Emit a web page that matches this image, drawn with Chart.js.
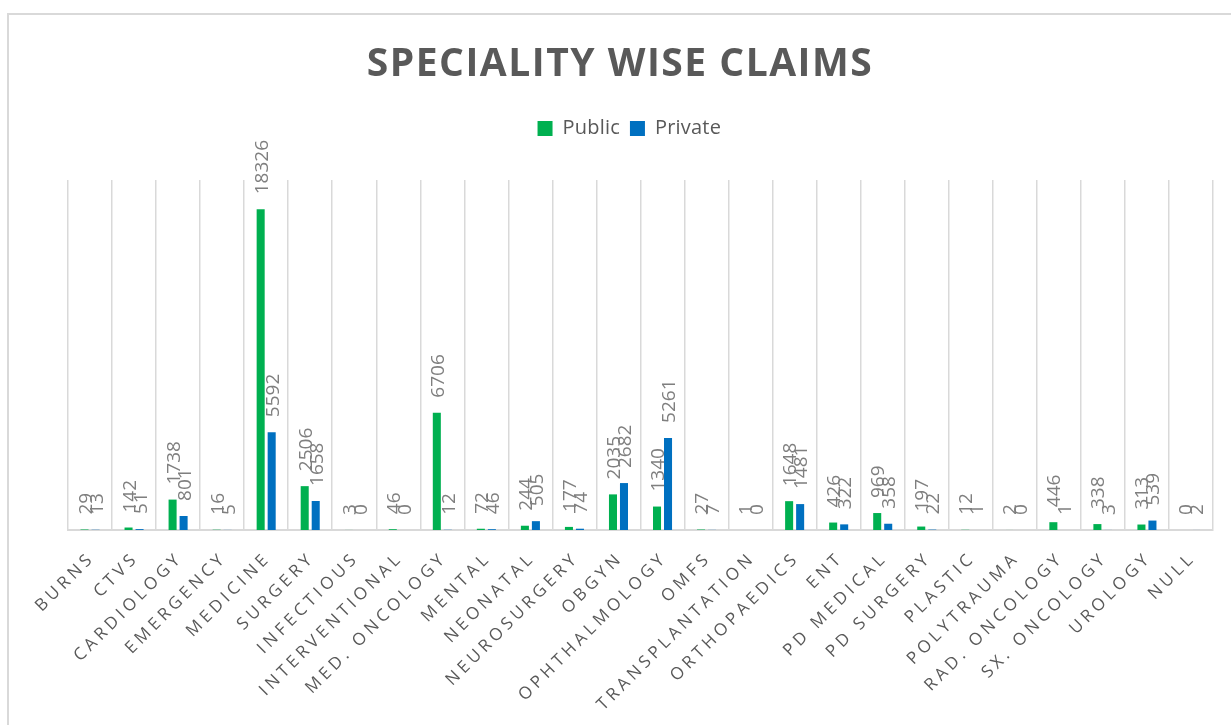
<!DOCTYPE html>
<html><head><meta charset="utf-8">
<script src="https://cdn.jsdelivr.net/npm/chart.js@4.4.0/dist/chart.umd.min.js"></script>
<style>html,body{margin:0;padding:0;background:#fff;overflow:hidden}#wrap{width:1231px;height:725px;position:relative}</style>
</head><body><div id="wrap"><canvas id="c" width="1231" height="725"></canvas></div>
<script>
const chartTitle = 'SPECIALITY WISE CLAIMS';
const categories = ['BURNS','CTVS','CARDIOLOGY','EMERGENCY','MEDICINE','SURGERY','INFECTIOUS','INTERVENTIONAL','MED. ONCOLOGY','MENTAL','NEONATAL','NEUROSURGERY','OBGYN','OPHTHALMOLOGY','OMFS','TRANSPLANTATION','ORTHOPAEDICS','ENT','PD MEDICAL','PD SURGERY','PLASTIC','POLYTRAUMA','RAD. ONCOLOGY','SX. ONCOLOGY','UROLOGY','NULL'];
const publicClaims = [29,142,1738,16,18326,2506,3,46,6706,72,244,177,2035,1340,27,1,1648,426,969,197,12,2,446,338,313,0];
const privateClaims = [13,51,801,5,5592,1658,0,0,12,46,505,74,2682,5261,7,0,1481,322,358,22,1,0,1,3,539,2];
const seriesNames = ['Public','Private'];
const seriesColors = ['#00b050','#0070c0'];

const framePlugin = {
  id: 'frame',
  beforeDraw(chart) {
    const ctx = chart.ctx;
    if (!chart._wrapped) {
      chart._wrapped = true;
      const t = chart.titleBlock, l = chart.legend;
      const td = t.draw.bind(t), ld = l.draw.bind(l);
      t.draw = function(a) { ctx.save(); ctx.letterSpacing = '1.5px'; td(a); ctx.restore(); };
      l.draw = function(a) { ctx.save(); ctx.letterSpacing = '0.2px'; ctx.translate(8, 0); ld(a); ctx.restore(); };
    }
    ctx.save();
    ctx.strokeStyle = '#d9d9d9';
    ctx.lineWidth = 2;
    ctx.strokeRect(8, 14, 1400, 900);
    ctx.restore();
    ctx.letterSpacing = '4px';
  }
};

const valueLabelPlugin = {
  id: 'valueLabels',
  afterDatasetsDraw(chart) {
    const ctx = chart.ctx;
    ctx.save();
    ctx.letterSpacing = '0px';
    ctx.font = '19px "Open Sans"';
    ctx.fillStyle = '#7f7f7f';
    ctx.textAlign = 'left';
    ctx.textBaseline = 'alphabetic';
    chart.data.datasets.forEach((ds, i) => {
      const meta = chart.getDatasetMeta(i);
      meta.data.forEach((el, j) => {
        ctx.save();
        ctx.translate(el.x, el.y - 15);
        ctx.rotate(-Math.PI / 2);
        ctx.fillText(String(ds.data[j]), 0, 7);
        ctx.restore();
      });
    });
    ctx.restore();
  }
};

new Chart(document.getElementById('c'), {
  type: 'bar',
  data: {
    labels: categories,
    datasets: [
      { label: seriesNames[0], data: publicClaims, backgroundColor: seriesColors[0], categoryPercentage: 0.5, barPercentage: 0.73 },
      { label: seriesNames[1], data: privateClaims, backgroundColor: seriesColors[1], categoryPercentage: 0.5, barPercentage: 0.73 }
    ]
  },
  options: {
    responsive: false,
    animation: false,
    devicePixelRatio: 1,
    layout: { padding: { left: 27, right: 18, top: 0, bottom: 0 } },
    plugins: {
      title: {
        display: true, text: chartTitle, color: '#595959',
        font: { family: 'Open Sans', size: 39, weight: 'bold', lineHeight: 1.2 },
        padding: { top: 41, bottom: 20.7 }
      },
      legend: {
        display: true, position: 'top',
        labels: { color: '#595959', font: { family: 'Open Sans', size: 20 }, boxWidth: 15, boxHeight: 15, padding: 10 }
      },
      subtitle: {
        display: true, text: '', weight: 500,
        font: { size: 10, lineHeight: 1 },
        padding: { top: 21.5, bottom: 0 }
      },
      tooltip: { enabled: false }
    },
    scales: {
      x: {
        grid: { offset: true, color: '#d9d9d9', lineWidth: 1.5, drawTicks: false },
        border: { color: '#d9d9d9', width: 2 },
        ticks: { autoSkip: false, maxRotation: 45, minRotation: 45, color: '#595959', font: { family: 'Open Sans', size: 17 }, padding: 18, labelOffset: 2 },
        afterFit(s) { s.height = 195; }
      },
      y: {
        display: true, min: 0, max: 20000,
        grid: { display: false }, border: { display: false }, ticks: { display: false },
        afterFit(s) { s.width = 41; }
      }
    }
  },
  plugins: [framePlugin, valueLabelPlugin]
});
</script>
</body></html>
